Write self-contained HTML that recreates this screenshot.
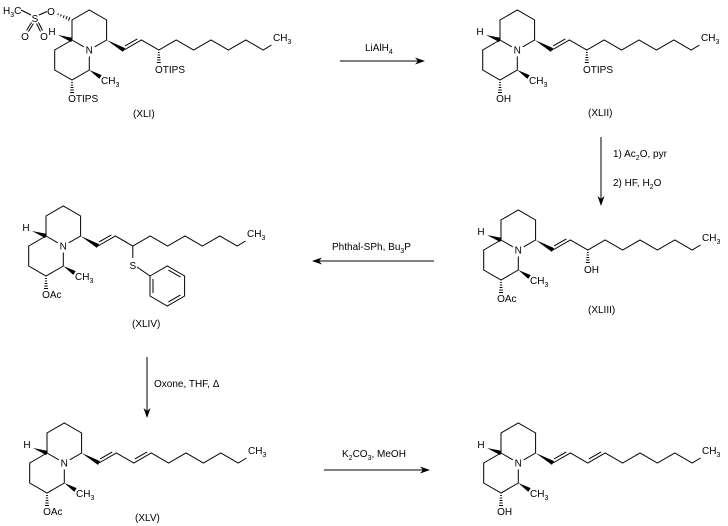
<!DOCTYPE html>
<html>
<head>
<meta charset="utf-8">
<style>
html,body{margin:0;padding:0;background:#fff;}
svg{display:block;}
text{font-family:"Liberation Sans",Arial,sans-serif;font-size:10px;fill:#000;}
.sub{font-size:7px;}
</style>
</head>
<body>
<svg width="728" height="526" viewBox="0 0 728 526" xmlns="http://www.w3.org/2000/svg" xmlns:xlink="http://www.w3.org/1999/xlink">
<rect width="728" height="526" fill="#fff"/>
<defs>
  <g id="ring">
    <path d="M0,0 L0,-20 L17.3,-30 L34.6,-20 L34.6,0 L22.8,6.8 M0,0 L11.8,6.8 M0,0 L-17.3,10 L-17.3,30 L0,40 L17.3,30 L17.3,16.5" fill="none" stroke="#000" stroke-width="1"/>
    <polygon points="-14,-5 -0.7,2.1 0.7,-2.1" fill="#000"/>
    <polygon points="17.3,30 27.3,38.9 29.7,35.1" fill="#000"/>
    <polygon points="34.6,0 50.9,11.9 53.1,8.1" fill="#000"/>
    <path d="M-0.8,42.5 L0.8,42.5 M-1.1,45 L1.1,45 M-1.4,47.5 L1.4,47.5 M-1.7,50 L1.7,50 M-2,52.5 L2,52.5" stroke="#000" stroke-width="1" fill="none"/>
  </g>
  <g id="chain">
    <path d="M52,10 L69.4,0 L86.8,10 L104.2,0 L121.6,10 L139,0 L156.4,10 L173.8,0 L191.2,10 L199.5,5 M53.1,5.9 L65.3,-1.1" fill="none" stroke="#000" stroke-width="1"/>
  </g>
  <g id="db2">
    <path d="M87.9,5.9 L100.1,-1.1" fill="none" stroke="#000" stroke-width="1"/>
  </g>
  <g id="hash3">
    <path d="M86,12.5 L87.6,12.5 M85.7,15 L87.9,15 M85.4,17.5 L88.2,17.5 M85.1,20 L88.5,20 M84.8,22.5 L88.8,22.5" fill="none" stroke="#000" stroke-width="1"/>
  </g>
</defs>

<!-- ===== XLI ===== -->
<g>
  <text x="3" y="14">H<tspan class="sub" dy="3">3</tspan><tspan dy="-3">C</tspan></text>
  <path d="M21,10 L31,15 M39,15 L47,11.5" stroke="#000" stroke-width="1" fill="none"/>
  <text x="35" y="22" text-anchor="middle">S</text>
  <text x="51" y="15" text-anchor="middle">O</text>
  <path d="M31.6,22.4 L26.6,30.4 M33.4,23.6 L28.4,31.6 M36.5,23.5 L40.5,31.5 M38.5,22.5 L42.5,30.5" stroke="#000" stroke-width="1" fill="none"/>
  <text x="25" y="40" text-anchor="middle">O</text>
  <text x="44" y="40" text-anchor="middle">O</text>
  <path d="M69.96,17.05 L68.44,20.75 M67.15,16.13 L65.85,19.27 M64.23,15.31 L63.17,17.89 M61.32,14.38 L60.48,16.42 M58.4,13.56 L57.8,15.04" stroke="#000" stroke-width="1" fill="none"/>
</g>
<g transform="translate(72,40)">
  <use href="#ring" xlink:href="#ring"/>
  <use href="#chain" xlink:href="#chain"/>
  <use href="#hash3" xlink:href="#hash3"/>
  <text x="17.3" y="13.6" text-anchor="middle">N</text>
  <text x="-20" y="-5" text-anchor="middle">H</text>
  <text x="29" y="44">CH<tspan class="sub" dy="3">3</tspan></text>
  <text x="-3.9" y="62">OTIPS</text>
  <text x="83" y="33">OTIPS</text>
  <text x="201" y="1">CH<tspan class="sub" dy="3">3</tspan></text>
</g>
<text x="133" y="117">(XLI)</text>

<!-- Arrow 1 -->
<line x1="340" y1="61" x2="419" y2="61" stroke="#000" stroke-width="1"/>
<polygon points="425,61 415,57.5 418,61 415,64.5" fill="#000"/>
<text x="365" y="51">LiAlH<tspan class="sub" dy="3">4</tspan></text>

<!-- ===== XLII ===== -->
<g transform="translate(500,40)">
  <use href="#ring" xlink:href="#ring"/>
  <use href="#chain" xlink:href="#chain"/>
  <use href="#hash3" xlink:href="#hash3"/>
  <text x="17.3" y="13.6" text-anchor="middle">N</text>
  <text x="-20" y="-5" text-anchor="middle">H</text>
  <text x="29" y="44">CH<tspan class="sub" dy="3">3</tspan></text>
  <text x="-3.9" y="62">OH</text>
  <text x="83" y="33">OTIPS</text>
  <text x="201" y="1">CH<tspan class="sub" dy="3">3</tspan></text>
</g>
<text x="588" y="116">(XLII)</text>

<!-- Arrow 2 (vertical) -->
<line x1="601" y1="137" x2="601" y2="200" stroke="#000" stroke-width="1"/>
<polygon points="601,206 597.5,196 601,199 604.5,196" fill="#000"/>
<text x="613" y="157">1) Ac<tspan class="sub" dy="3">2</tspan><tspan dy="-3">O, pyr</tspan></text>
<text x="613" y="186">2) HF, H<tspan class="sub" dy="3">2</tspan><tspan dy="-3">O</tspan></text>

<!-- ===== XLIII ===== -->
<g transform="translate(501,240)">
  <use href="#ring" xlink:href="#ring"/>
  <use href="#chain" xlink:href="#chain"/>
  <use href="#hash3" xlink:href="#hash3"/>
  <text x="17.3" y="13.6" text-anchor="middle">N</text>
  <text x="-20" y="-5" text-anchor="middle">H</text>
  <text x="29" y="44">CH<tspan class="sub" dy="3">3</tspan></text>
  <text x="-3.9" y="62">OAc</text>
  <text x="83" y="33">OH</text>
  <text x="201" y="1">CH<tspan class="sub" dy="3">3</tspan></text>
</g>
<text x="588" y="313">(XLIII)</text>

<!-- Arrow 3 (leftward) -->
<line x1="434" y1="261" x2="318" y2="261" stroke="#000" stroke-width="1"/>
<polygon points="312,261 322,257.5 319,261 322,264.5" fill="#000"/>
<text x="332" y="250">Phthal-SPh, Bu<tspan class="sub" dy="3">3</tspan><tspan dy="-3">P</tspan></text>

<!-- ===== XLIV ===== -->
<g transform="translate(46,236)">
  <use href="#ring" xlink:href="#ring"/>
  <use href="#chain" xlink:href="#chain"/>
  <path d="M86.8,10 L86.8,22 M91,31 L104,40 M104,40 L121.3,30 L138.6,40 L138.6,60 L121.3,70 L104,60 Z M122.4,34.1 L134.5,41.1 M134.5,58.9 L122.4,65.9 M107,43 L107,57" fill="none" stroke="#000" stroke-width="1"/>
  <text x="86.8" y="33" text-anchor="middle">S</text>
  <text x="17.3" y="13.6" text-anchor="middle">N</text>
  <text x="-20" y="-5" text-anchor="middle">H</text>
  <text x="29" y="44">CH<tspan class="sub" dy="3">3</tspan></text>
  <text x="-3.9" y="62">OAc</text>
  <text x="201" y="1">CH<tspan class="sub" dy="3">3</tspan></text>
</g>
<text x="132" y="327">(XLIV)</text>

<!-- Arrow 4 (vertical) -->
<line x1="147" y1="357" x2="147" y2="412" stroke="#000" stroke-width="1"/>
<polygon points="147,418 143.5,408 147,411 150.5,408" fill="#000"/>
<text x="154" y="387">Oxone, THF, Δ</text>

<!-- ===== XLV ===== -->
<g transform="translate(47,453)">
  <use href="#ring" xlink:href="#ring"/>
  <use href="#chain" xlink:href="#chain"/>
  <use href="#db2" xlink:href="#db2"/>
  <text x="17.3" y="13.6" text-anchor="middle">N</text>
  <text x="-20" y="-5" text-anchor="middle">H</text>
  <text x="29" y="44">CH<tspan class="sub" dy="3">3</tspan></text>
  <text x="-3.9" y="62">OAc</text>
  <text x="201" y="1">CH<tspan class="sub" dy="3">3</tspan></text>
</g>
<text x="135" y="521">(XLV)</text>

<!-- Arrow 5 -->
<line x1="324" y1="470" x2="424" y2="470" stroke="#000" stroke-width="1"/>
<polygon points="430,470 420,466.5 423,470 420,473.5" fill="#000"/>
<text x="342" y="457">K<tspan class="sub" dy="3">2</tspan><tspan dy="-3">CO</tspan><tspan class="sub" dy="3">3</tspan><tspan dy="-3">, MeOH</tspan></text>

<!-- ===== Final product ===== -->
<g transform="translate(501,453)">
  <use href="#ring" xlink:href="#ring"/>
  <use href="#chain" xlink:href="#chain"/>
  <use href="#db2" xlink:href="#db2"/>
  <text x="17.3" y="13.6" text-anchor="middle">N</text>
  <text x="-20" y="-5" text-anchor="middle">H</text>
  <text x="29" y="44">CH<tspan class="sub" dy="3">3</tspan></text>
  <text x="-3.9" y="62">OH</text>
  <text x="201" y="1">CH<tspan class="sub" dy="3">3</tspan></text>
</g>
</svg>
</body>
</html>
